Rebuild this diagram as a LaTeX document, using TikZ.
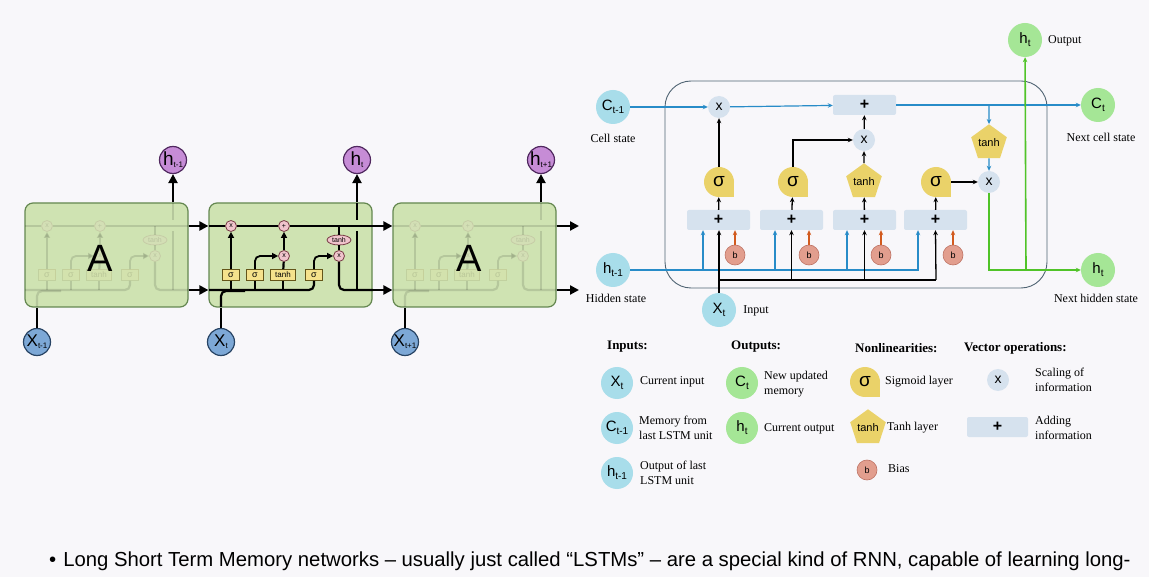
\documentclass[tikz,border=0pt]{standalone}
\usepackage{fontspec}
\setmainfont{Liberation Serif}
\setsansfont{Liberation Sans}
\usetikzlibrary{arrows.meta,shapes.geometric,calc}

\definecolor{bg}{RGB}{248,247,250}
\definecolor{cellfill}{RGB}{207,227,178}
\definecolor{cellB}{RGB}{100,135,80}
\definecolor{pinkop}{RGB}{240,196,204}
\definecolor{pinkB}{RGB}{120,60,70}
\definecolor{gateY}{RGB}{245,226,140}
\definecolor{gateB}{RGB}{100,85,25}
\definecolor{hpurple}{RGB}{198,140,214}
\definecolor{hpurpleB}{RGB}{80,40,95}
\definecolor{xblue}{RGB}{125,168,214}
\definecolor{xblueB}{RGB}{40,68,100}
\definecolor{cyanC}{RGB}{168,221,234}
\definecolor{greenC}{RGB}{165,230,150}
\definecolor{opB}{RGB}{214,226,238}
\definecolor{yel}{RGB}{234,210,105}
\definecolor{biasC}{RGB}{226,158,142}
\definecolor{biasD}{RGB}{190,115,100}
\definecolor{lblue}{RGB}{40,140,200}
\definecolor{lorange}{RGB}{210,90,30}
\definecolor{lgreen}{RGB}{80,195,40}
\definecolor{frameC}{RGB}{80,100,115}

\newcommand{\SL}[5]{{\fontsize{#3}{#3}\selectfont #1}\raisebox{-#5pt}{\fontsize{#4}{#4}\selectfont #2}}

\tikzset{
  thk/.style={line width=2.2pt, black},
  thka/.style={thk, -{Triangle[length=9pt,width=9pt]}},
  tha/.style={line width=1.8pt, black, -{Triangle[length=6pt,width=6pt]}},
  cellbox/.style={rectangle, rounded corners=8, minimum width=163, minimum height=104, inner sep=0, fill=cellfill, draw=cellB, line width=1.2pt},
  pop/.style={circle, minimum size=11, inner sep=0, fill=pinkop, draw=pinkB, line width=0.8pt, font=\sffamily\fontsize{7}{7}\selectfont},
  tanhE/.style={ellipse, minimum width=24, minimum height=10, inner sep=0, fill=pinkop, draw=pinkB, line width=0.8pt, font=\sffamily\fontsize{7}{7}\selectfont},
  gbox/.style={rectangle, minimum width=17, minimum height=11, inner sep=0, fill=gateY, draw=gateB, line width=0.8pt, font=\sffamily\fontsize{9}{9}\selectfont},
  hcirc/.style={circle, minimum size=27, inner sep=0, fill=hpurple, draw=hpurpleB, line width=1.2pt, font=\sffamily},
  xcirc/.style={circle, minimum size=27, inner sep=0, fill=xblue, draw=xblueB, line width=1.2pt, font=\sffamily},
  bigA/.style={font=\sffamily\fontsize{38}{38}\selectfont},
  rc/.style={circle, minimum size=34, inner sep=0, fill=cyanC, font=\sffamily},
  gc/.style={rc, fill=greenC},
  lrc/.style={circle, minimum size=32, inner sep=0, fill=cyanC, font=\sffamily},
  lgc/.style={lrc, fill=greenC},
  op/.style={circle, minimum size=22, inner sep=0, fill=opB, font=\sffamily\fontsize{14}{14}\selectfont},
  addb/.style={rectangle, rounded corners=2, minimum width=63, minimum height=20, inner sep=0, fill=opB, font=\sffamily\bfseries\fontsize{16}{16}\selectfont},
  pent/.style={regular polygon, regular polygon sides=5, minimum size=33, inner sep=0, fill=yel, font=\sffamily\fontsize{11}{11}\selectfont},
  sigc/.style={circle, minimum size=30, inner sep=0, font=\sffamily\fontsize{19}{19}\selectfont},
  biasn/.style={circle, minimum size=20, inner sep=0, fill=biasC, draw=biasD, line width=0.6pt, font=\sffamily\fontsize{9}{9}\selectfont},
  lbl/.style={font=\fontsize{12}{15}\selectfont, align=left, inner sep=0},
  hdr/.style={font=\bfseries\fontsize{13}{15}\selectfont, inner sep=0, anchor=west},
  bla/.style={line width=1.2pt, lblue, -{Stealth[length=5pt,width=4.5pt]}},
  bll/.style={line width=1.2pt, lblue},
  blk/.style={line width=1.3pt, black, -{Stealth[length=5pt,width=4.5pt]}},
  blkl/.style={line width=1.3pt, black},
  ora/.style={line width=1.2pt, lorange, -{Stealth[length=5pt,width=4.5pt]}},
  grn/.style={line width=1.6pt, lgreen, -{Stealth[length=5pt,width=4.5pt]}},
  grnl/.style={line width=1.6pt, lgreen},
}

% sigma shape: circle with a square bottom-right corner
\newcommand{\sigshape}[3]{%
  \fill[yel] (#1,#2) circle (#3pt);
  \fill[yel] (#1,#2) rectangle ++(#3,#3);
}

% internals of one LSTM cell, in the coordinates of the middle cell
\newcommand{\lstmcell}{%
  \coordinate (cl) at (209,226);
  \coordinate (cr) at (373,226);
  \coordinate (bl) at (209,290);
  \coordinate (br) at (373,290);
  \node[pop] (mt) at (231,226) {x};
  \node[pop] (pl) at (284,226) {+};
  \node[tanhE] (te) at (339,240) {tanh};
  \node[pop] (mo) at (339,256) {x};
  \node[pop] (mm) at (284,256) {x};
  \node[gbox] (s1) at (231,275) {σ};
  \node[gbox] (s2) at (255,275) {σ};
  \node[gbox, minimum width=25, font=\sffamily\fontsize{8}{8}\selectfont] (tb) at (283,275) {tanh};
  \node[gbox] (s4) at (314,275) {σ};
  \draw[thk] (cl) -- (mt) -- (pl) -- (cr);
  \draw[thk] (te.north) -- (te.north |- cl);
  \draw[thk] (te) -- (mo);
  \draw[thk, rounded corners=5] (bl) -| (s4.south);
  \draw[thk] (s1.south) -- (s1.south |- bl);
  \draw[thk] (s2.south) -- (s2.south |- bl);
  \draw[thk] (tb.south) -- (tb.south |- bl);
  \draw[thk, rounded corners=5] (221,307) |- (245,291);
  \draw[tha] (s1) -- (mt);
  \draw[tha, rounded corners=5] (s2.north) |- (mm.west);
  \draw[thk] (tb) -- (mm);
  \draw[tha] (mm) -- (pl);
  \draw[tha, rounded corners=5] (s4.north) |- (mo.west);
  \draw[thk, rounded corners=5] (mo.south) |- (br);
  \draw[thk] (357,290) -- (357,231);
  \draw[thk] (357,220) -- (357,203);
}

\begin{document}
\begin{tikzpicture}[x=1pt,y=-1pt]
\useasboundingbox (0,0) rectangle (1149,577);
\fill[bg] (0,0) rectangle (1149,577);

% ================= LEFT: unrolled LSTM chain =================
\coordinate (topY) at (0,226);
\coordinate (botY) at (0,290);
\coordinate (endT) at (579,226);
\coordinate (endB) at (579,290);

\node[cellbox] (A1) at (106.5,255) {};
\node[cellbox] (A2) at (290.5,255) {};
\node[cellbox] (A3) at (474.5,255) {};

\begin{scope}[shift={(-184,0)}, opacity=0.12, name prefix=c1-]
  \lstmcell
\end{scope}
\begin{scope}[name prefix=c2-]
  \lstmcell
\end{scope}
\begin{scope}[shift={(184,0)}, opacity=0.12, name prefix=c3-]
  \lstmcell
\end{scope}

\node[bigA] (Aone) at (100,258) {A};
\node[bigA] (Athree) at (469,258) {A};

\node[hcirc] (h1) at (173,160) {\SL{h}{t-1}{19}{8}{2}};
\node[hcirc] (h2) at (357,160) {\SL{h}{t}{19}{8}{2}};
\node[hcirc] (h3) at (541,160) {\SL{h}{t+1}{19}{8}{2}};
\node[xcirc] (x1) at (37,342) {\SL{X}{t-1}{17}{8}{2}};
\node[xcirc] (x2) at (221,342) {\SL{X}{t}{17}{8}{2}};
\node[xcirc] (x3) at (405,342) {\SL{X}{t+1}{17}{8}{2}};

\draw[thka] (A1.east |- topY) -- (A2.west |- topY);
\draw[thka] (A1.east |- botY) -- (A2.west |- botY);
\draw[thka] (A2.east |- topY) -- (A3.west |- topY);
\draw[thka] (A2.east |- botY) -- (A3.west |- botY);
\draw[thka] (A3.east |- topY) -- (endT);
\draw[thka] (A3.east |- botY) -- (endB);
\draw[thka] (A1.north -| h1) -- (h1);
\draw[thka] (A2.north -| h2) -- (h2);
\draw[thka] (A3.north -| h3) -- (h3);
\draw[thk] (x1) -- (x1 |- A1.south);
\draw[thk] (x2) -- (x2 |- A2.south);
\draw[thk] (x3) -- (x3 |- A3.south);

% ================= RIGHT: detailed LSTM cell =================
\node[draw=frameC, line width=0.9pt, rounded corners=26, minimum width=382, minimum height=207, inner sep=0] (frame) at (856,184.5) {};

\node[rc] (Cprev) at (613,107) {\SL{C}{t-1}{15}{10}{3}};
\node[rc] (hprev) at (613,270) {\SL{h}{t-1}{15}{10}{3}};
\node[rc] (xt) at (719,310) {\SL{X}{t}{15}{10}{3}};
\node[gc] (Ct) at (1098,105) {\SL{C}{t}{15}{10}{3}};
\node[gc] (ht) at (1098,270) {\SL{h}{t}{15}{10}{3}};
\node[gc] (hout) at (1025,40) {\SL{h}{t}{15}{10}{3}};

\node[lbl] (lCell) at (613,138) {Cell state};
\node[lbl] (lHid) at (616,298) {Hidden state};
\node[lbl] (lIn) at (756,311) {Input};
\node[lbl, anchor=west] (lOut) at (1048,41) {Output};
\node[lbl] (lNC) at (1101,137) {Next cell state};
\node[lbl] (lNH) at (1096,298) {Next hidden state};

\node[op] (m1) at (719,107) {x};
\node[addb] (a0) at (864.5,105) {+};
\node[op] (m2) at (864,140) {x};
\node[op] (m3) at (989,182) {x};
\node[pent] (th) at (989,143) {tanh};

\sigshape{719}{182}{15}
\sigshape{793}{182}{15}
\sigshape{936}{182}{15}
\node[sigc] (g1) at (719,182) {σ};
\node[sigc] (g2) at (793,182) {σ};
\node[pent] (g3) at (864,182) {tanh};
\node[sigc] (g4) at (936,182) {σ};

\node[addb] (p1) at (718.5,220) {+};
\node[addb] (p2) at (791.5,220) {+};
\node[addb] (p3) at (864.5,220) {+};
\node[addb] (p4) at (935.5,220) {+};

\node[biasn] (b1) at (735,255) {b};
\node[biasn] (b2) at (809,255) {b};
\node[biasn] (b3) at (881,255) {b};
\node[biasn] (b4) at (953,255) {b};

% blue hidden-state line
\coordinate (j1) at (703,270);
\coordinate (j2) at (775,270);
\coordinate (j3) at (847,270);
\coordinate (j4) at (918,270);
\draw[bla] (hprev) -- (j4) -- (j4 |- p4.south);
\draw[bla] (j1) -- (j1 |- p1.south);
\draw[bla] (j2) -- (j2 |- p2.south);
\draw[bla] (j3) -- (j3 |- p3.south);

% black input line
\coordinate (k1) at (719,280);
\coordinate (k4) at (936,280);
\draw[blk] (xt) -- (xt |- p1.south);
\draw[blkl] (k1) -- (k4);
\draw[blk] (p2.south |- k1) -- (p2.south);
\draw[blk] (p3.south |- k1) -- (p3.south);
\draw[blk] (k4) -- (p4.south);

% bias
\draw[ora] (b1) -- (b1 |- p1.south);
\draw[ora] (b2) -- (b2 |- p2.south);
\draw[ora] (b3) -- (b3 |- p3.south);
\draw[ora] (b4) -- (b4 |- p4.south);

% sums to gates
\draw[blk] (p1) -- (g1);
\draw[blk] (p2) -- (g2);
\draw[blk] (p3) -- (g3);
\draw[blk] (p4) -- (g4);

% gates to operations
\draw[blk] (g1) -- (m1);
\draw[blk] (g2.north) |- (m2.west);
\draw[blk] (g3) -- (m2);
\draw[blk] (m2) -- (a0);
\draw[blk] (g4) -- (m3);

% cell state line
\coordinate (sp) at (989,105);
\draw[bla] (Cprev) -- (m1);
\draw[bla] (m1) -- (a0);
\draw[bla] (a0) -- (Ct);
\draw[bla] (sp) -- (th);
\draw[bla] (th) -- (m3);

% hidden output
\coordinate (gc1) at (989,270);
\coordinate (gc2) at (1026,270);
\draw[grn] (m3) -- (gc1) -- (ht);
\draw[grn] (gc2) -- (hout);

% ================= LEGEND =================
\node[hdr] (hIn) at (607,347) {Inputs:};
\node[hdr] (hOut) at (731,347) {Outputs:};
\node[hdr] (hNon) at (855,348) {Nonlinearities:};
\node[hdr] (hVec) at (964,348) {Vector operations:};

\node[lrc] (lx) at (617,383) {\SL{X}{t}{15}{10}{3}};
\node[lrc] (lc) at (617,428) {\SL{C}{t-1}{15}{10}{3}};
\node[lrc] (lh) at (617,473) {\SL{h}{t-1}{15}{10}{3}};
\node[lbl, anchor=west] (tx) at (640,382) {Current input};
\node[lbl, anchor=west] (tc) at (639,428) {Memory from\\last LSTM unit};
\node[lbl, anchor=west] (th1) at (640,473) {Output of last\\LSTM unit};

\node[lgc] (lct) at (742,383) {\SL{C}{t}{15}{10}{3}};
\node[lgc] (lht) at (742,428) {\SL{h}{t}{15}{10}{3}};
\node[lbl, anchor=west] (tct) at (764,384) {New updated\\memory};
\node[lbl, anchor=west] (tht) at (764,429) {Current output};

\sigshape{865}{382}{15}
\node[sigc] (ls) at (865,382) {σ};
\node[pent] (lt) at (868,428) {tanh};
\node[biasn] (lb) at (867,470) {b};
\node[lbl, anchor=west] (tls) at (885,382) {Sigmoid layer};
\node[lbl, anchor=west] (tlt) at (887,428) {Tanh layer};
\node[lbl, anchor=west] (tlb) at (888,469) {Bias};

\node[op] (lm) at (998,380) {x};
\node[addb, minimum width=61] (la) at (997.5,427) {+};
\node[lbl, anchor=west] (tlm) at (1035,380) {Scaling of\\information};
\node[lbl, anchor=west] (tla) at (1035,428) {Adding\\information};

% ================= bottom text =================
\node[anchor=west, inner sep=0, font=\sffamily\fontsize{20.3}{20.3}\selectfont] (bul) at (49,561) {•\hspace{7pt}Long Short Term Memory networks – usually just called “LSTMs” – are a special kind of RNN, capable of learning long-};

\end{tikzpicture}
\end{document}
